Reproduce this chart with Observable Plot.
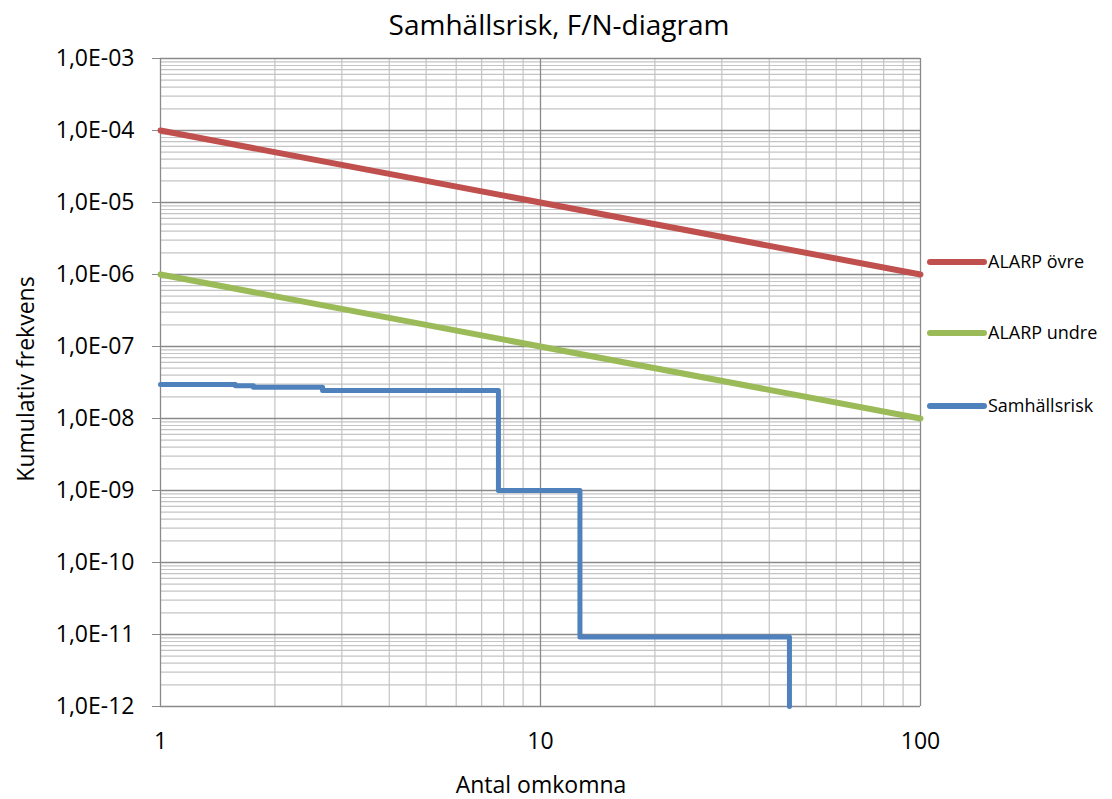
<!DOCTYPE html>
<html><head><meta charset="utf-8">
<script src="https://cdn.jsdelivr.net/npm/d3@7"></script>
<script src="https://cdn.jsdelivr.net/npm/@observablehq/plot@0.6"></script>
<style>body{margin:0;background:#fff}</style>
</head><body><div id="chart"></div>
<script>
const FONT = "'Open Sans', 'DejaVu Sans', sans-serif";
const title = "Samhällsrisk, F/N-diagram";
const xLabel = "Antal omkomna";
const yLabel = "Kumulativ frekvens";
const seriesNames = ["ALARP övre", "ALARP undre", "Samhällsrisk"];
const colors = ["#c0504d", "#9bbb59", "#4f81bd"];

const alarpUpperN = [1, 100];
const alarpUpperF = [1e-4, 1e-6];
const alarpLowerN = [1, 100];
const alarpLowerF = [1e-6, 1e-8];
const riskN = [1, 1.575, 1.756, 2.67, 7.75, 12.7, 45.2];
const riskF = [2.97e-8, 2.85e-8, 2.72e-8, 2.45e-8, 1e-9, 9.2e-12, 1e-12];

const xTicks = [1, 10, 100];
const yTicks = [1e-12,1e-11,1e-10,1e-9,1e-8,1e-7,1e-6,1e-5,1e-4,1e-3];
const yTickLabels = ["1,0E-12","1,0E-11","1,0E-10","1,0E-09","1,0E-08","1,0E-07","1,0E-06","1,0E-05","1,0E-04","1,0E-03"];

const xMinor = [];
for (const d of [1, 10]) for (let k = 2; k <= 9; k++) xMinor.push(d * k);
const yMinor = [];
for (let e = -12; e < -3; e++) for (let k = 2; k <= 9; k++) yMinor.push(k * Math.pow(10, e));

const upper = alarpUpperN.map((n, i) => ({n, f: alarpUpperF[i]}));
const lower = alarpLowerN.map((n, i) => ({n, f: alarpLowerF[i]}));
const risk = riskN.map((n, i) => ({n, f: riskF[i]}));

const yFmt = d => yTickLabels[yTicks.findIndex(t => Math.abs(Math.log10(t) - Math.log10(d)) < 1e-6)];

const W = 1112, H = 799;
const chart = Plot.plot({
  width: W, height: H,
  marginLeft: 160, marginRight: 192, marginTop: 58, marginBottom: 93,
  style: {fontFamily: FONT, background: "#fff"},
  x: {type: "log", domain: [1, 100], label: null},
  y: {type: "log", domain: [1e-12, 1e-3], label: null},
  marks: [
    Plot.ruleX(xMinor, {stroke: "#c4c4c4", strokeWidth: 1.2}),
    Plot.ruleY(yMinor, {stroke: "#c4c4c4", strokeWidth: 1.2}),
    Plot.ruleX(xTicks, {stroke: "#8a8a8a", strokeWidth: 1.3}),
    Plot.ruleY(yTicks, {stroke: "#8a8a8a", strokeWidth: 1.3}),
    Plot.axisY({ticks: yTicks, tickFormat: yFmt, tickSize: 8, tickPadding: 18, stroke: "#8a8a8a", fontSize: 23, fill: "#000", label: null}),
    Plot.axisX({ticks: xTicks, tickFormat: d => String(d), tickSize: 0, tickPadding: 26, fontSize: 23, fill: "#000", label: null}),
    Plot.line(upper, {x: "n", y: "f", stroke: colors[0], strokeWidth: 6}),
    Plot.line(lower, {x: "n", y: "f", stroke: colors[1], strokeWidth: 6}),
    Plot.line(risk, {x: "n", y: "f", stroke: colors[2], strokeWidth: 5, curve: "step-after", strokeLinejoin: "round"})
  ]
});
document.getElementById("chart").appendChild(chart);

const svg = d3.select(chart);
svg.append("text").attr("x", 559).attr("y", 35).attr("text-anchor", "middle")
  .style("font-family", FONT).style("font-size", "28px").attr("fill", "#000").text(title);
svg.append("text").attr("x", 541).attr("y", 793).attr("text-anchor", "middle")
  .style("font-family", FONT).style("font-size", "23px").attr("fill", "#000").text(xLabel);
svg.append("text").attr("transform", "translate(34,379) rotate(-90)").attr("text-anchor", "middle")
  .style("font-family", FONT).style("font-size", "23px").attr("fill", "#000").text(yLabel);

const legY = [262, 333, 406];
seriesNames.forEach((s, i) => {
  svg.append("line").attr("x1", 930).attr("x2", 984).attr("y1", legY[i]).attr("y2", legY[i])
    .attr("stroke", colors[i]).attr("stroke-width", 6).attr("stroke-linecap", "round");
  svg.append("text").attr("x", 988).attr("y", legY[i]).attr("dy", "0.35em").attr("text-anchor", "start")
    .style("font-family", FONT).style("font-size", "18px").attr("fill", "#000").text(s);
});
</script></body></html>
